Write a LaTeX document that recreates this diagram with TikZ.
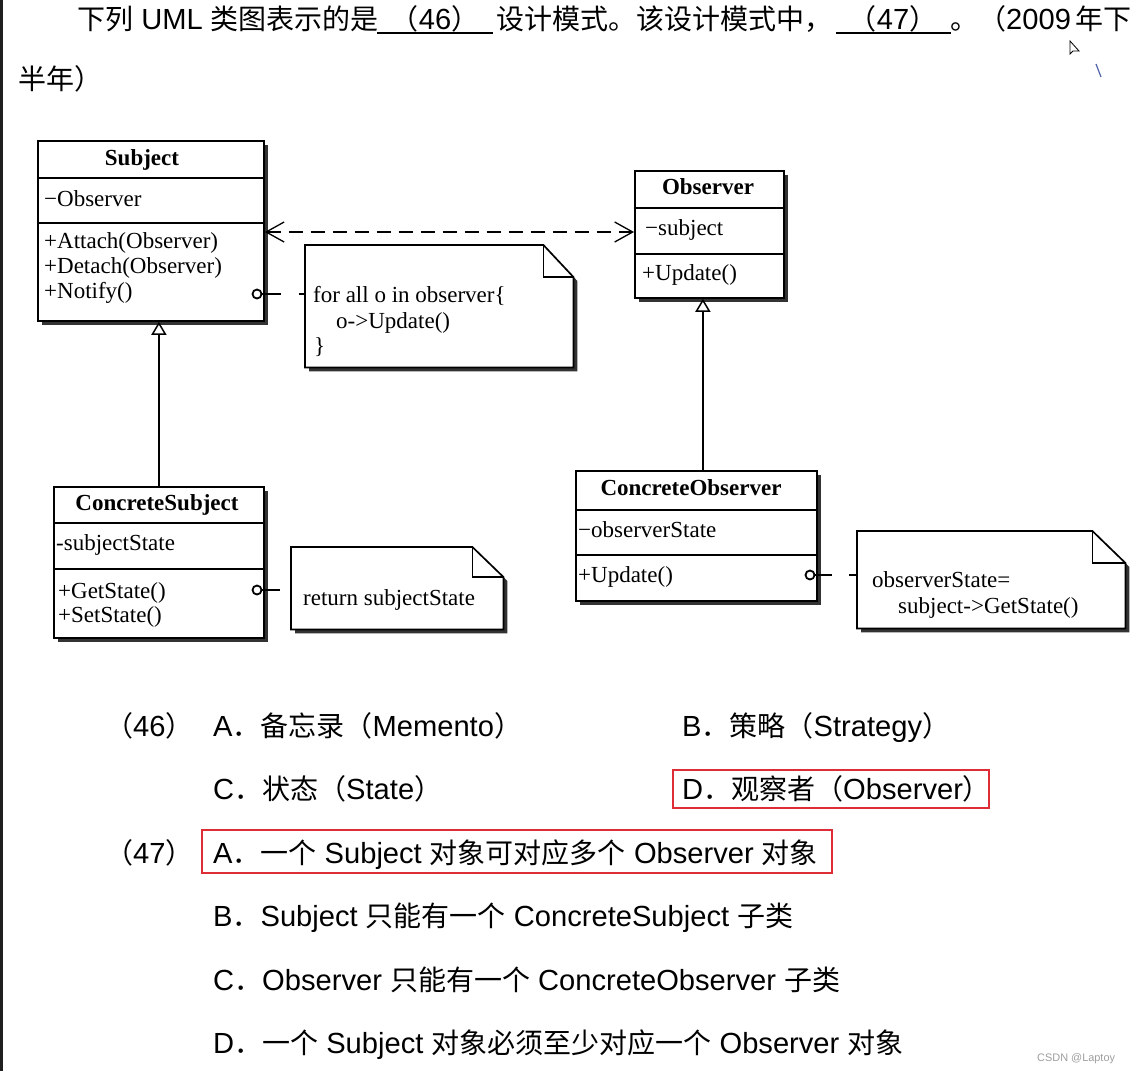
\documentclass[tikz,border=0pt]{standalone}
\usepackage{fontspec}
\setmainfont{Liberation Sans}[Scale=1.04]
\newfontfamily\zh{Noto Sans CJK SC}
\newfontfamily\tms{Liberation Serif}
\usetikzlibrary{arrows.meta,shadows,calc}
\definecolor{redbox}{RGB}{222,45,55}
\newcommand\zz[1]{{\zh #1}}
\newcommand\dognote[3]{%
  \fill[black!80, transform canvas={shift={(4pt,-4pt)}}] (#1.north west) -- ($(#1.north east)+(-#2,0)$) -- ($(#1.north east)+(0,#3)$) -- (#1.south east) -- (#1.south west) -- cycle;
  \draw[noteline, fill=white] (#1.north west) -- ($(#1.north east)+(-#2,0)$) -- ($(#1.north east)+(0,#3)$) -- (#1.south east) -- (#1.south west) -- cycle;
  \draw[noteline] ($(#1.north east)+(-#2,0)$) -- ++(0,#3) -- ++(#2,0);}
\begin{document}
\begin{tikzpicture}[x=1pt,y=-1pt,
  umlbox/.style={draw, line width=1.8pt, fill=white, inner sep=0pt, anchor=north west,
     drop shadow={shadow xshift=4pt, shadow yshift=-4pt, opacity=1, fill=black!80}},
  divline/.style={line width=1.5pt},
  noteline/.style={line width=1.7pt, line join=miter},
  notenode/.style={inner sep=0pt, anchor=north west},
  umltxt/.style={font=\tms\fontsize{23}{27}\selectfont, inner sep=0pt, anchor=base west},
  umltitle/.style={font=\tms\bfseries\fontsize{23}{27}\selectfont, inner sep=0pt, anchor=base},
  qtxt/.style={font=\fontsize{28}{34}\selectfont, inner sep=0pt, anchor=base west},
  assoc/.style={line width=1.3pt, dash pattern=on 14pt off 8pt,
     {Straight Barb[length=18pt,width=20pt]}-{Straight Barb[length=18pt,width=20pt]}},
  gen/.style={line width=1.5pt, -{Triangle[length=13pt,width=15pt,fill=white]}},
  pin/.style={circle, draw, fill=white, line width=1.8pt, inner sep=0pt, minimum size=9pt},
  notelink/.style={line width=2pt},
  redframe/.style={draw=redbox, line width=1.6pt}]
\useasboundingbox (0,0) rectangle (1135,1071);
\fill[white] (0,0) rectangle (1135,1071);
\fill[black!88] (0,0) rectangle (3,1071);

% question text
\node[qtxt] (t1) at (77,29) {\zz{下列} UML \zz{类图表示的是}};
\node[qtxt, anchor=base] (t46) at (435,29) {\zz{（}46\zz{）}};
\draw[line width=1.8pt] (377,33) -- (493,33);
\node[qtxt] (t2) at (496,29) {\zz{设计模式。该设计模式中，}};
\node[qtxt, anchor=base] (t47) at (893,29) {\zz{（}47\zz{）}};
\draw[line width=1.8pt] (836,33) -- (951,33);
\node[qtxt] (t3) at (950,29) {\zz{。（}2009\hspace{5pt}\zz{年下}};
\node[qtxt] (t4) at (18,89) {\zz{半年）}};

% cursor artefacts
\draw[line width=0.8pt, fill=white] (1070,41) -- (1070,54) -- (1073,51) -- (1079,51) -- cycle;
\draw[color={rgb,255:red,80;green,100;blue,170}, line width=1.2pt] (1096,64) -- (1101,77);

% Subject
\node[umlbox, minimum width=226pt, minimum height=180pt] (subj) at (37,140) {};
\draw[divline] (subj.west |- 0,178) -- (subj.east |- 0,178);
\draw[divline] (subj.west |- 0,223) -- (subj.east |- 0,223);
\node[umltitle] (subjT) at (142,165) {Subject};
\node[umltxt] (subjA) at (44,206) {−Observer};
\node[umltxt] (subjO1) at (44,248) {+Attach(Observer)};
\node[umltxt] (subjO2) at (44,273) {+Detach(Observer)};
\node[umltxt] (subjO3) at (44,298) {+Notify()};

% Observer
\node[umlbox, minimum width=149pt, minimum height=127pt] (obs) at (634,170) {};
\draw[divline] (obs.west |- 0,208) -- (obs.east |- 0,208);
\draw[divline] (obs.west |- 0,254) -- (obs.east |- 0,254);
\node[umltitle] (obsT) at (708,194) {Observer};
\node[umltxt] (obsA) at (645,235) {−subject};
\node[umltxt] (obsO) at (642,280) {+Update()};

% ConcreteSubject
\node[umlbox, minimum width=210pt, minimum height=151pt] (csubj) at (53,486) {};
\draw[divline] (csubj.west |- 0,523) -- (csubj.east |- 0,523);
\draw[divline] (csubj.west |- 0,569) -- (csubj.east |- 0,569);
\node[umltitle] (csubjT) at (157,510) {ConcreteSubject};
\node[umltxt] (csubjA) at (56,550) {-subjectState};
\node[umltxt] (csubjO1) at (58,598) {+GetState()};
\node[umltxt] (csubjO2) at (58,622) {+SetState()};

% ConcreteObserver
\node[umlbox, minimum width=241pt, minimum height=130pt] (cobs) at (575,470) {};
\draw[divline] (cobs.west |- 0,510) -- (cobs.east |- 0,510);
\draw[divline] (cobs.west |- 0,555) -- (cobs.east |- 0,555);
\node[umltitle] (cobsT) at (691,495) {ConcreteObserver};
\node[umltxt] (cobsA) at (578,537) {−observerState};
\node[umltxt] (cobsO) at (578,582) {+Update()};

% notes
\node[notenode, minimum width=268pt, minimum height=122pt] (n1) at (305,245) {};
\dognote{n1}{30}{32}
\node[umltxt] (n1a) at (313,302) {for all o in observer\{};
\node[umltxt] (n1b) at (336,328) {o->Update()};
\node[umltxt] (n1c) at (314,353) {\}};

\node[notenode, minimum width=212pt, minimum height=82pt] (n2) at (291,547) {};
\dognote{n2}{31}{30}
\node[umltxt] (n2a) at (303,605) {return subjectState};

\node[notenode, minimum width=268pt, minimum height=97pt] (n3) at (857,531) {};
\dognote{n3}{33}{32}
\node[umltxt] (n3a) at (872,587) {observerState=};
\node[umltxt] (n3b) at (898,613) {subject->GetState()};

% connectors
\draw[assoc] (subj.east |- 0,232) -- (obs.west |- 0,232);
\draw[gen] (csubj.north) -- (csubj.north |- subj.south);
\coordinate (g2) at ([xshift=6.5pt]cobs.north);
\draw[gen] (g2) -- (g2 |- obs.south);

\node[pin] (p1) at (257,294) {};
\draw[notelink, dash pattern=on 19pt off 18pt] (p1) -- (n1.west |- p1);
\node[pin] (p2) at (257,590) {};
\draw[notelink, dash pattern=on 18pt off 18pt] (p2) -- (n2.west |- p2);
\node[pin] (p3) at (810,575) {};
\draw[notelink, dash pattern=on 17pt off 17pt] (p3) -- (n3.west |- p3);

% options
\node[qtxt] (q46) at (105,736) {\zz{（}46\zz{）}};
\node[qtxt] (o46a) at (213,736) {A\zz{．备忘录（}Memento\zz{）}};
\node[qtxt] (o46b) at (682,736) {B\zz{．策略（}Strategy\zz{）}};
\node[qtxt] (o46c) at (213,799) {C\zz{．状态（}State\zz{）}};
\node[qtxt] (o46d) at (682,799) {D\zz{．观察者（}Observer\zz{）}};
\draw[redframe] (673,770) rectangle (989,808);
\node[qtxt] (q47) at (105,863) {\zz{（}47\zz{）}};
\node[qtxt] (o47a) at (213,863) {A\zz{．一个} Subject \zz{对象可对应多个} Observer \zz{对象}};
\draw[redframe] (202,830) rectangle (832,873);
\node[qtxt] (o47b) at (213,926) {B\zz{．}Subject \zz{只能有一个} ConcreteSubject \zz{子类}};
\node[qtxt] (o47c) at (213,990) {C\zz{．}Observer \zz{只能有一个} ConcreteObserver \zz{子类}};
\node[qtxt] (o47d) at (213,1053) {D\zz{．一个} Subject \zz{对象必须至少对应一个} Observer \zz{对象}};

\node[font=\fontsize{10.5}{13}\selectfont, text=black!38, anchor=base west, inner sep=0pt] (wm) at (1037,1061) {CSDN @Laptoy};
\end{tikzpicture}
\end{document}
